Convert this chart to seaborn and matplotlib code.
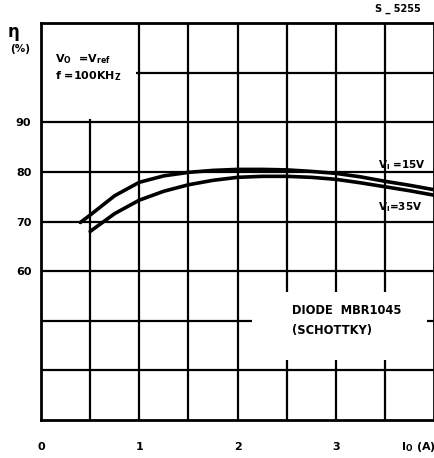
import pandas as pd
import matplotlib
matplotlib.use("Agg")
import matplotlib.pyplot as plt
import seaborn as sns

# Efficiency vs output current
io_15v = [0.4, 0.5, 0.75, 1.0, 1.25, 1.5, 1.75, 2.0, 2.25, 2.5, 2.75, 3.0, 3.25, 3.5, 3.75, 4.0]
eff_15v = [69.8, 71.3, 75.2, 77.9, 79.2, 79.9, 80.3, 80.5, 80.5, 80.4, 80.1, 79.7, 79.0, 78.1, 77.3, 76.4]
io_35v = [0.5, 0.75, 1.0, 1.25, 1.5, 1.75, 2.0, 2.25, 2.5, 2.75, 3.0, 3.25, 3.5, 3.75, 4.0]
eff_35v = [68.0, 71.6, 74.3, 76.1, 77.4, 78.3, 78.9, 79.1, 79.1, 78.9, 78.5, 77.8, 77.0, 76.2, 75.3]

x_ticks = [0, 1, 2, 3]
x_tick_labels = ["0", "1", "2", "3"]
y_ticks = [60, 70, 80, 90]
y_tick_labels = ["60", "70", "80", "90"]

sns.set_style("white")
plt.rcParams["font.family"] = ["DejaVu Sans"]
plt.rcParams["font.weight"] = "bold"
plt.rcParams["mathtext.default"] = "bf"
plt.rcParams["text.color"] = "black"
plt.rcParams["xtick.color"] = "black"
plt.rcParams["ytick.color"] = "black"

df = pd.concat([
    pd.DataFrame({"Io": io_15v, "eff": eff_15v, "Vi": "15V"}),
    pd.DataFrame({"Io": io_35v, "eff": eff_35v, "Vi": "35V"}),
])

fig = plt.figure(figsize=(4.35, 4.58), dpi=100)
ax = fig.add_axes([41 / 435, 1 - 420 / 458, 1 - 41 / 435 - 0.002, (420 - 23) / 458])

# heavy grid every half ampere / 10 %
for gx in [0.5 * i for i in range(1, 8)]:
    ax.axvline(gx, color="black", lw=1.6, zorder=1)
for gy in range(40, 110, 10):
    ax.axhline(gy, color="black", lw=1.6, zorder=1)

# blank patches where the original has text boxes over the grid
ax.add_patch(plt.Rectangle((0.0, 90.6), 0.97, 19.4, facecolor="white", edgecolor="none", zorder=2))
ax.add_patch(plt.Rectangle((2.15, 42.0), 1.78, 13.8, facecolor="white", edgecolor="none", zorder=2))

sns.lineplot(data=df, x="Io", y="eff", hue="Vi", palette=["black", "black"],
             lw=2.6, legend=False, ax=ax, zorder=3)

ax.set_xlim(0, 4)
ax.set_ylim(30, 110)
ax.set_xticks(x_ticks)
ax.set_xticklabels(x_tick_labels)
ax.set_yticks(y_ticks)
ax.set_yticklabels(y_tick_labels)
ax.tick_params(axis="both", length=0, labelsize=8, labelcolor="black")
ax.tick_params(axis="x", pad=16)
ax.tick_params(axis="y", pad=7)
ax.set_xlabel("")
ax.set_ylabel("")
for s in ax.spines.values():
    s.set_color("black")
    s.set_linewidth(2)
    s.set_zorder(4)

# annotations
fig.text(375 / 435, 1 - 9 / 458, "S _ 5255", fontsize=7, va="center", ha="left")
fig.text(14 / 435, 1 - 32 / 458, "η", fontsize=12, va="center", ha="center")
fig.text(20 / 435, 1 - 49 / 458, "(%)", fontsize=7.5, va="center", ha="center")
ax.text(0.14, 102.8, r"V$_O$  =V$_{ref}$", fontsize=8, va="center", ha="left", zorder=5)
ax.text(0.14, 99.4, r"f =100KH$_Z$", fontsize=8, va="center", ha="left", zorder=5)
ax.text(3.43, 81.3, r"V$_I$ =15V", fontsize=7.5, va="center", ha="left", zorder=5)
ax.text(3.43, 73.0, r"V$_I$=35V", fontsize=7.5, va="center", ha="left", zorder=5)
ax.text(2.55, 52.1, "DIODE  MBR1045", fontsize=8.3, va="center", ha="left", zorder=5)
ax.text(2.55, 48.1, "(SCHOTTKY)", fontsize=8.3, va="center", ha="left", zorder=5)
fig.text(401 / 435, 1 - 447 / 458, r"I$_O$ (A)", fontsize=8, va="center", ha="left")

fig.savefig("out.png", dpi=100)
